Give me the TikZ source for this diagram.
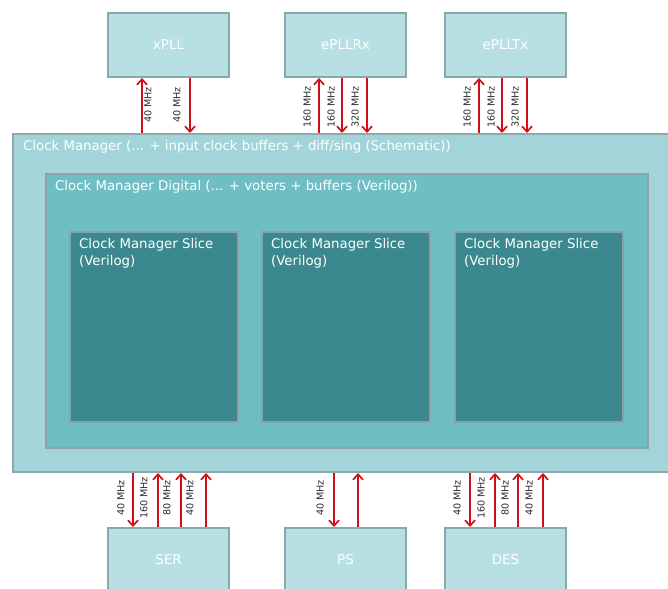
\documentclass[tikz,border=0pt]{standalone}
\usepackage{fontspec}
\setmainfont{DejaVu Sans}
\usetikzlibrary{arrows.meta}
\definecolor{pllfill}{HTML}{B8E0E3}
\definecolor{pllline}{HTML}{86A9AB}
\definecolor{cmfill}{HTML}{A2D4D9}
\definecolor{cmline}{HTML}{8EA9AB}
\definecolor{digfill}{HTML}{6EBEC4}
\definecolor{digline}{HTML}{8AA5A7}
\definecolor{slicefill}{HTML}{3B898E}
\definecolor{sliceline}{HTML}{86A3A5}
\definecolor{clkred}{HTML}{CC1016}
\definecolor{lbl}{HTML}{2A2A2A}
\begin{document}
\begin{tikzpicture}[x=1pt,y=-1pt,
  pll/.style={draw=pllline,fill=pllfill,line width=2pt,minimum width=121pt,
    minimum height=64pt,inner sep=0pt,text=white,font=\fontsize{13.5}{16}\selectfont},
  region/.style={line width=2pt,inner sep=0pt},
  title/.style={text=white,anchor=west,inner sep=0pt,font=\fontsize{13.3}{17}\selectfont},
  arr/.style={draw=clkred,line width=2pt,-{Straight Barb[length=5.5pt,width=10pt,line width=1.7pt]}},
  freq/.style={rotate=90,text=lbl,inner sep=0pt,font=\fontsize{9.6}{11}\selectfont}]
\useasboundingbox (0,0) rectangle (668,588);
\clip (0,0) rectangle (668,588);

% nested clock manager regions
\node[region,draw=cmline,fill=cmfill,minimum width=662pt,minimum height=338pt,anchor=north west] (cm) at (12,133) {};
\node[title] (cmt) at (23,147) {Clock Manager (... + input clock buffers + diff/sing (Schematic))};
\node[region,draw=digline,fill=digfill,minimum width=602pt,minimum height=274pt,anchor=north west] (dig) at (45,173) {};
\node[title] (digt) at (55,187) {Clock Manager Digital (... + voters + buffers (Verilog))};
\foreach \n/\x in {s1/69,s2/261,s3/454}{
  \node[region,draw=sliceline,fill=slicefill,minimum width=168pt,minimum height=190pt,anchor=north west] (\n) at (\x,231) {};
  \node[title,anchor=north west,align=left] (\n t) at ([shift={(10pt,-7pt)}]\n.north west) {Clock Manager Slice\\(Verilog)};
}

% PLL blocks above
\node[pll] (xpll) at (168.5,45) {xPLL};
\node[pll] (rx) at (345.5,45) {ePLLRx};
\node[pll] (tx) at (505.5,45) {ePLLTx};

% serial blocks below
\node[pll] (ser) at (168.5,560) {SER};
\node[pll] (ps) at (345.5,560) {PS};
\node[pll] (des) at (505.5,560) {DES};

% clock links to the PLLs
\draw[arr] ([xshift=-26.5pt]xpll.south |- cm.north) -- ([xshift=-26.5pt]xpll.south);
\draw[arr] ([xshift=21.5pt]xpll.south) -- ([xshift=21.5pt]xpll.south |- cm.north);
\foreach \b in {rx,tx}{
  \draw[arr] ([xshift=-26.5pt]\b.south |- cm.north) -- ([xshift=-26.5pt]\b.south);
  \draw[arr] ([xshift=-3.5pt]\b.south) -- ([xshift=-3.5pt]\b.south |- cm.north);
  \draw[arr] ([xshift=21.5pt]\b.south) -- ([xshift=21.5pt]\b.south |- cm.north);
}
\node[freq] (f1) at (148,105) {40 MHz};
\node[freq] (f2) at (177,105) {40 MHz};
\node[freq] (f3) at (307,107) {160 MHz};
\node[freq] (f4) at (331,107) {160 MHz};
\node[freq] (f5) at (355,107) {320 MHz};
\node[freq] (f6) at (467,107) {160 MHz};
\node[freq] (f7) at (491,107) {160 MHz};
\node[freq] (f8) at (515,107) {320 MHz};

% clock links to SER / PS / DES
\foreach \b in {ser,des}{
  \draw[arr] ([xshift=-35.5pt]\b.north |- cm.south) -- ([xshift=-35.5pt]\b.north);
  \draw[arr] ([xshift=-10.5pt]\b.north) -- ([xshift=-10.5pt]\b.north |- cm.south);
  \draw[arr] ([xshift=12.5pt]\b.north) -- ([xshift=12.5pt]\b.north |- cm.south);
  \draw[arr] ([xshift=37.5pt]\b.north) -- ([xshift=37.5pt]\b.north |- cm.south);
}
\draw[arr] ([xshift=-11.5pt]ps.north |- cm.south) -- ([xshift=-11.5pt]ps.north);
\draw[arr] ([xshift=12.5pt]ps.north) -- ([xshift=12.5pt]ps.north |- cm.south);

\node[freq] (g1) at (121,498) {40 MHz};
\node[freq] (g2) at (144,498) {160 MHz};
\node[freq] (g3) at (167,498) {80 MHz};
\node[freq] (g4) at (190,498) {40 MHz};
\node[freq] (g5) at (320,498) {40 MHz};
\node[freq] (g6) at (457,498) {40 MHz};
\node[freq] (g7) at (481,498) {160 MHz};
\node[freq] (g8) at (505,498) {80 MHz};
\node[freq] (g9) at (529,498) {40 MHz};
\end{tikzpicture}
\end{document}
